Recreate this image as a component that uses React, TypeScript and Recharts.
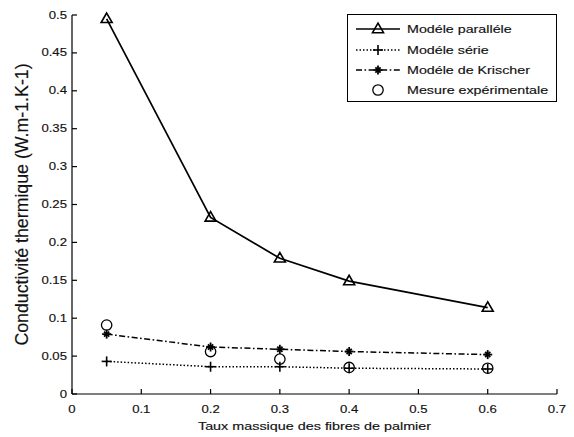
import React from 'react';
import { LineChart, Line, XAxis, YAxis, Legend } from 'recharts';

const FONT = '"Liberation Sans", Arial, Helvetica, sans-serif';

const fractions = [0.05, 0.2, 0.3, 0.4, 0.6];
const paralleleValues = [0.495, 0.233, 0.179, 0.149, 0.114];
const serieValues = [0.043, 0.036, 0.036, 0.034, 0.033];
const krischerValues = [0.079, 0.062, 0.059, 0.056, 0.052];
const mesureValues = [0.091, 0.056, 0.046, 0.035, 0.034];

const xTicks = [0, 0.1, 0.2, 0.3, 0.4, 0.5, 0.6, 0.7];
const xTickLabels = ['0', '0.1', '0.2', '0.3', '0.4', '0.5', '0.6', '0.7'];
const yTicks = [0, 0.05, 0.1, 0.15, 0.2, 0.25, 0.3, 0.35, 0.4, 0.45, 0.5];
const yTickLabels = ['0', '0.05', '0.1', '0.15', '0.2', '0.25', '0.3', '0.35', '0.4', '0.45', '0.5'];

const seriesNames = ['Modéle paralléle', 'Modéle série', 'Modéle de Krischer', 'Mesure expérimentale'];
const xTitle = 'Taux massique des fibres de palmier';
const yTitle = 'Conductivité thermique (W.m-1.K-1)';

const data = fractions.map((x, i) => ({
  x,
  parallele: paralleleValues[i],
  serie: serieValues[i],
  krischer: krischerValues[i],
  mesure: mesureValues[i],
}));

const lookup = (v: number, ticks: number[], labels: string[]) => {
  const i = ticks.findIndex((t) => Math.abs(t - v) < 1e-9);
  return i >= 0 ? labels[i] : String(v);
};

const TICK_FS = 10.8;
const TICK_SX = 1.22;
const TEXT_FILL = '#111';

const BottomTick = (props: any) => {
  const { x, y, payload } = props;
  return (
    <g>
      <line x1={x} y1={y} x2={x} y2={y - 5} stroke="#000" strokeWidth={1.2} />
      <text
        transform={`translate(${x},${y + 15}) scale(${TICK_SX},1)`}
        textAnchor="middle"
        dominantBaseline="central"
        fontSize={TICK_FS}
        fontFamily={FONT}
        fill={TEXT_FILL}
        stroke={TEXT_FILL}
        strokeWidth={0.15}
      >
        {lookup(payload.value, xTicks, xTickLabels)}
      </text>
    </g>
  );
};

const TopTick = (props: any) => {
  const { x, y } = props;
  return <line x1={x} y1={y} x2={x} y2={y + 5} stroke="#000" strokeWidth={1.2} />;
};

const LeftTick = (props: any) => {
  const { x, y, payload } = props;
  return (
    <g>
      <line x1={x} y1={y} x2={x + 5} y2={y} stroke="#000" strokeWidth={1.2} />
      <text
        transform={`translate(${x - 5},${y}) scale(${TICK_SX},1)`}
        textAnchor="end"
        dominantBaseline="central"
        fontSize={TICK_FS}
        fontFamily={FONT}
        fill={TEXT_FILL}
        stroke={TEXT_FILL}
        strokeWidth={0.15}
      >
        {lookup(payload.value, yTicks, yTickLabels)}
      </text>
    </g>
  );
};

const RightTick = (props: any) => {
  const { x, y } = props;
  return <line x1={x} y1={y} x2={x - 5} y2={y} stroke="#000" strokeWidth={1.2} />;
};

const XTitle = (props: any) => {
  const vb = props.viewBox || {};
  const cx = vb.x + vb.width / 2;
  const by = vb.y + 35.5;
  return (
    <text
      transform={`translate(${cx},${by}) scale(1.24,1)`}
      textAnchor="middle"
      fontSize={11.6}
      fontFamily={FONT}
      fill={TEXT_FILL}
      stroke={TEXT_FILL}
      strokeWidth={0.15}
    >
      {xTitle}
    </text>
  );
};

const YTitle = (props: any) => {
  const vb = props.viewBox || {};
  const cx = vb.x + 21.5;
  const cy = vb.y + vb.height / 2;
  return (
    <text
      transform={`translate(${cx},${cy}) rotate(-90) scale(1.11,1.16)`}
      textAnchor="middle"
      dominantBaseline="central"
      fontSize={16}
      fontFamily={FONT}
      fill={TEXT_FILL}
      stroke={TEXT_FILL}
      strokeWidth={0.15}
    >
      {yTitle}
    </text>
  );
};

const Triangle = ({ cx, cy }: { cx: number; cy: number }) => (
  <polygon
    points={`${cx},${cy - 5.8} ${cx - 5.5},${cy + 3.7} ${cx + 5.5},${cy + 3.7}`}
    fill="none"
    stroke="#000"
    strokeWidth={1.6}
  />
);

const Plus = ({ cx, cy }: { cx: number; cy: number }) => (
  <g stroke="#000" strokeWidth={1.6}>
    <line x1={cx - 5} y1={cy} x2={cx + 5} y2={cy} />
    <line x1={cx} y1={cy - 5} x2={cx} y2={cy + 5} />
  </g>
);

const Star = ({ cx, cy }: { cx: number; cy: number }) => (
  <g stroke="#000" strokeWidth={1.8}>
    <line x1={cx - 4.5} y1={cy} x2={cx + 4.5} y2={cy} />
    <line x1={cx} y1={cy - 4.5} x2={cx} y2={cy + 4.5} />
    <line x1={cx - 2.6} y1={cy - 2.6} x2={cx + 2.6} y2={cy + 2.6} />
    <line x1={cx - 2.6} y1={cy + 2.6} x2={cx + 2.6} y2={cy - 2.6} />
  </g>
);

const Circle = ({ cx, cy }: { cx: number; cy: number }) => (
  <circle cx={cx} cy={cy} r={5.2} fill="none" stroke="#000" strokeWidth={1.3} />
);

const dotOf = (Comp: any, name: string) => (p: any) => (
  <g key={`${name}-${p.index}`}>
    <Comp cx={p.cx} cy={p.cy} />
  </g>
);

const DASH_SERIE = '1.5 2';
const DASH_KRISCHER = '6 2.5 1.6 2.5';

const LegendBox = () => {
  const rows = [14, 35, 55, 75];
  const lx1 = 8;
  const lx2 = 52;
  const mx = 30;
  const tx = 59;
  return (
    <div
      style={{
        width: 210,
        height: 88,
        border: '1px solid #000',
        background: '#fff',
        boxSizing: 'border-box',
      }}
    >
      <svg width={208} height={86} style={{ display: 'block' }}>
        <line x1={lx1} y1={rows[0]} x2={lx2} y2={rows[0]} stroke="#000" strokeWidth={1.7} />
        <Triangle cx={mx} cy={rows[0]} />
        <line x1={lx1} y1={rows[1]} x2={lx2} y2={rows[1]} stroke="#000" strokeWidth={1.5} strokeDasharray={DASH_SERIE} />
        <Plus cx={mx} cy={rows[1]} />
        <line x1={lx1} y1={rows[2]} x2={lx2} y2={rows[2]} stroke="#000" strokeWidth={1.5} strokeDasharray={DASH_KRISCHER} />
        <Star cx={mx} cy={rows[2]} />
        <Circle cx={mx} cy={rows[3]} />
        {seriesNames.map((n, i) => (
          <text
            key={n}
            transform={`translate(${tx},${rows[i]}) scale(1.23,1)`}
            textAnchor="start"
            dominantBaseline="central"
            fontSize={11.6}
            fontFamily={FONT}
            fill={TEXT_FILL}
            stroke={TEXT_FILL}
            strokeWidth={0.15}
          >
            {n}
          </text>
        ))}
      </svg>
    </div>
  );
};

export default function App() {
  return (
    <div style={{ position: 'absolute', left: 0, top: 0, width: 574, height: 437, background: '#fff' }}>
      <LineChart width={574} height={437} data={data} margin={{ top: 15, right: 17, bottom: 0, left: 0 }}>
        <XAxis
          dataKey="x"
          type="number"
          domain={[0, 0.7]}
          ticks={xTicks}
          interval={0}
          height={43}
          tickSize={0}
          tickMargin={0}
          tickLine={false}
          axisLine={{ stroke: '#000', strokeWidth: 1.2 }}
          tick={BottomTick}
          label={{ content: XTitle }}
        />
        <XAxis
          xAxisId="top"
          orientation="top"
          type="number"
          domain={[0, 0.7]}
          ticks={xTicks}
          interval={0}
          height={0}
          tickSize={0}
          tickMargin={0}
          tickLine={false}
          axisLine={{ stroke: '#000', strokeWidth: 1.2 }}
          tick={TopTick}
        />
        <YAxis
          type="number"
          domain={[0, 0.5]}
          ticks={yTicks}
          interval={0}
          width={72}
          tickSize={0}
          tickMargin={0}
          tickLine={false}
          axisLine={{ stroke: '#000', strokeWidth: 1.2 }}
          tick={LeftTick}
          label={{ content: YTitle }}
        />
        <YAxis
          yAxisId="right"
          orientation="right"
          type="number"
          domain={[0, 0.5]}
          ticks={yTicks}
          interval={0}
          width={0}
          tickSize={0}
          tickMargin={0}
          tickLine={false}
          axisLine={{ stroke: '#000', strokeWidth: 1.2 }}
          tick={RightTick}
        />
        <Line
          dataKey="parallele"
          stroke="#000"
          strokeWidth={1.7}
          dot={dotOf(Triangle, 'tri')}
          isAnimationActive={false}
        />
        <Line
          dataKey="serie"
          stroke="#000"
          strokeWidth={1.5}
          strokeDasharray={DASH_SERIE}
          dot={dotOf(Plus, 'plus')}
          isAnimationActive={false}
        />
        <Line
          dataKey="krischer"
          stroke="#000"
          strokeWidth={1.5}
          strokeDasharray={DASH_KRISCHER}
          dot={dotOf(Star, 'star')}
          isAnimationActive={false}
        />
        <Line
          dataKey="mesure"
          stroke="none"
          dot={dotOf(Circle, 'circ')}
          isAnimationActive={false}
        />
        <Legend
          layout="vertical"
          align="center"
          verticalAlign="middle"
          content={() => <LegendBox />}
          wrapperStyle={{ position: 'absolute', left: 347, top: 14, width: 210, height: 88 }}
        />
      </LineChart>
    </div>
  );
}
